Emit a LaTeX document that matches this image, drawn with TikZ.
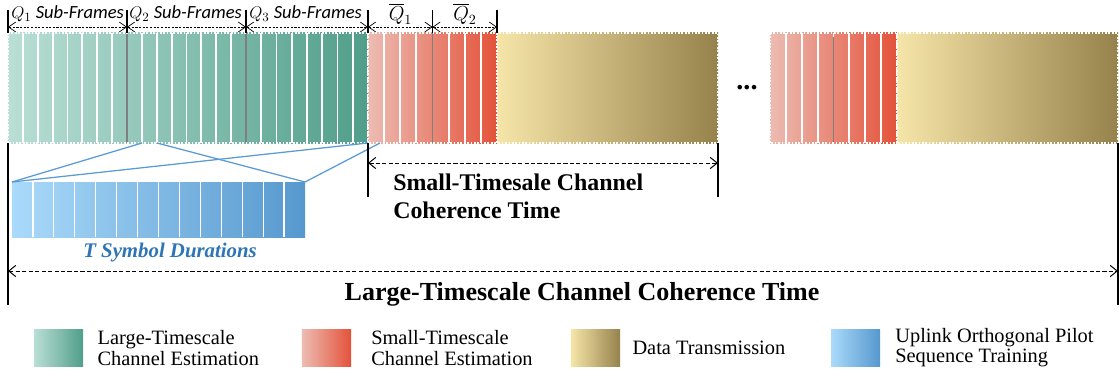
\documentclass[tikz,border=0pt]{standalone}
\usepackage{fontspec}
\setmainfont{Liberation Serif}
\newfontfamily\calib{Carlito}
\usepackage{xcolor}
\usetikzlibrary{arrows.meta, positioning}

\definecolor{lsLight}{RGB}{186,223,213}
\definecolor{lsDark}{RGB}{80,158,138}
\definecolor{ssLight}{RGB}{236,188,178}
\definecolor{ssDark}{RGB}{228,82,58}
\definecolor{dtLight}{RGB}{246,229,168}
\definecolor{dtDark}{RGB}{150,130,76}
\definecolor{plLight}{RGB}{170,218,250}
\definecolor{plDark}{RGB}{86,152,206}
\definecolor{plLine}{RGB}{91,155,213}
\definecolor{plText}{RGB}{46,117,182}

\tikzset{
    slice/.style={white, line width=1.3pt},
    divider/.style={gray, line width=1.4pt},
    dotborder/.style={draw=white, line width=0.9pt, dash pattern=on 1.2pt off 1.2pt},
    tick/.style={black, line width=1.2pt},
    dimarrow/.style={line width=0.7pt, dash pattern=on 3pt off 1.6pt,
        {Straight Barb[length=5pt, width=8pt]}-{Straight Barb[length=5pt, width=8pt]}},
    subarrow/.style={line width=0.5pt, dash pattern=on 1.6pt off 1pt,
        {Straight Barb[length=5pt, width=7pt]}-{Straight Barb[length=5pt, width=7pt]}},
    zoomline/.style={plLine, line width=0.9pt},
    swatch/.style={minimum width=1.225cm, minimum height=0.9cm, inner sep=0pt},
    keytext/.style={align=left, inner sep=0pt, font=\fontsize{14.5}{14.3}\selectfont},
    sublabel/.style={anchor=base west, inner sep=0pt, font=\calib\fontsize{13.2}{13.2}\selectfont}
}

\begin{document}
\begin{tikzpicture}[x=0.025cm, y=-0.025cm]
    \useasboundingbox (0,0) rectangle (1119,381);

    % Large-timescale channel estimation: 3 groups of 8 sub-frames
    \shade[left color=lsLight, right color=lsDark] (8,33) rectangle (368,143);
    \foreach \a/\b in {8/127, 127/246, 246/368}
        \foreach \k in {1,...,7}
            \draw[slice] ({\a+(\b-\a)*\k/8},33) -- ({\a+(\b-\a)*\k/8},143);
    \draw[divider] (127,33) -- (127,143);
    \draw[divider] (246,33) -- (246,143);
    \draw[dotborder] (8,33) rectangle (368,143);

    % Small-timescale channel estimation, first frame
    \shade[left color=ssLight, right color=ssDark] (368,33) rectangle (497,143);
    \foreach \k in {1,...,7}
        \draw[slice] ({368+129*\k/8},33) -- ({368+129*\k/8},143);
    \draw[divider] (432.5,33) -- (432.5,143);
    \draw[dotborder] (368,33) rectangle (497,143);

    % Data transmission, first frame
    \shade[left color=dtLight, right color=dtDark] (497,33) rectangle (718,143);
    \draw[dotborder] (497,33) rectangle (718,143);

    \node (dots) at (747,88) {\bfseries\fontsize{20}{20}\selectfont ...};

    % Next frame
    \shade[left color=ssLight, right color=ssDark] (770,33) rectangle (897,143);
    \foreach \k in {1,...,7}
        \draw[slice] ({770+127*\k/8},33) -- ({770+127*\k/8},143);
    \draw[divider] (833.5,37) -- (833.5,143);
    \draw[dotborder] (770,33) rectangle (897,143);
    \shade[left color=dtLight, right color=dtDark] (897,33) rectangle (1118,143);
    \draw[dotborder] (897,33) rectangle (1118,143);

    % Sub-frame dimensions
    \coordinate (q0) at (8,27);
    \coordinate (q1) at (127,27);
    \coordinate (q2) at (246,27);
    \coordinate (q3) at (368,27);
    \coordinate (qb1) at (432.5,27);
    \coordinate (qb2) at (497,27);
    \foreach \x in {8, 127, 246, 368, 432.5, 497}
        \draw[tick] (\x,10) -- (\x,33);
    \draw[subarrow] (q0) -- (q1);
    \draw[subarrow] (q1) -- (q2);
    \draw[subarrow] (q2) -- (q3);
    \draw[subarrow] (q3) -- (qb1);
    \draw[subarrow] (qb1) -- (qb2);
    \node[sublabel] (lq1) at (11,19) {$Q_1$ \textit{Sub-Frames}};
    \node[sublabel] (lq2) at (129,19) {$Q_2$ \textit{Sub-Frames}};
    \node[sublabel] (lq3) at (249,19) {$Q_3$ \textit{Sub-Frames}};
    \node[font=\fontsize{14}{14}\selectfont] (lqb1) at (400.5,14) {$\overline{Q}_1$};
    \node[font=\fontsize{14}{14}\selectfont] (lqb2) at (465,14) {$\overline{Q}_2$};

    % Uplink pilot training inside one sub-frame
    \shade[left color=plLight, right color=plDark] (12,182) rectangle (305,237);
    \foreach \k in {1,...,13}
        \draw[white, line width=0.9pt] ({12+293*\k/14},182) -- ({12+293*\k/14},237);
    \coordinate (pilotNW) at (12,182);
    \coordinate (pilotNE) at (305,182);
    \coordinate (sfL) at (142,143);
    \coordinate (sfR) at (157,143);
    \coordinate (lsEnd) at (368,143);
    \coordinate (ssIn) at (380,143);
    \draw[zoomline] (pilotNW) -- (sfL);
    \draw[zoomline] (pilotNW) -- (lsEnd);
    \draw[zoomline] (pilotNE) -- (sfR);
    \draw[zoomline] (pilotNE) -- (ssIn);
    \node[text=plText, font=\bfseries\itshape\fontsize{14.8}{14.8}\selectfont] (tsym) at (170,253) {T Symbol Durations};

    % Small-timescale coherence time
    \draw[tick] (368,143) -- (368,197);
    \draw[tick] (718,143) -- (718,197);
    \coordinate (sA) at (368,163);
    \coordinate (sB) at (718,163);
    \draw[dimarrow] (sA) -- (sB);
    \node[align=left, anchor=west, inner sep=0pt, font=\bfseries\fontsize{17}{20}\selectfont] (stime) at (393,196)
        {Small-Timesale Channel\\Coherence Time};

    % Large-timescale coherence time
    \draw[tick] (8,143) -- (8,305);
    \draw[tick] (1118,143) -- (1118,305);
    \coordinate (lA) at (8,271);
    \coordinate (lB) at (1118,271);
    \draw[dimarrow] (lA) -- (lB);
    \node[font=\bfseries\fontsize{18.5}{18.5}\selectfont] (ltime) at (582,294) {Large-Timescale Channel Coherence Time};

    % Legend
    \node[swatch, left color=lsLight, right color=lsDark] (keyLs) at (58.5,348) {};
    \node[keytext, right=10pt of keyLs] (txtLs) {Large-Timescale\\Channel Estimation};
    \node[swatch, left color=ssLight, right color=ssDark] (keySs) at (326.5,348) {};
    \node[keytext, right=14pt of keySs] (txtSs) {Small-Timescale\\Channel Estimation};
    \node[swatch, left color=dtLight, right color=dtDark] (keyDt) at (595.5,348) {};
    \node[keytext, right=8.5pt of keyDt] (txtDt) {Data Transmission};
    \node[swatch, left color=plLight, right color=plDark] (keyPl) at (855.5,348) {};
    \node[keytext, right=10.5pt of keyPl] (txtPl) {Uplink Orthogonal Pilot\\Sequence Training};
\end{tikzpicture}
\end{document}
